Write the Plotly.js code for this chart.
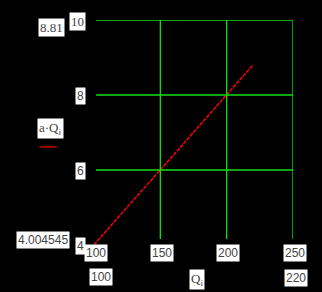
<!DOCTYPE html>
<html><head><meta charset="utf-8">
<script src="https://cdn.plot.ly/plotly-3.0.1.min.js"></script>
<style>html,body{margin:0;padding:0;background:#000;}#c{width:322px;height:292px;}</style>
</head><body><div id="c"></div>
<script>
// data
const Q = [100, 220];
const aQ = [4.004545, 8.81];
const xTicks = [100, 150, 200, 250];
const yTicks = [4, 6, 8, 10];
const xGrid = [150, 200, 250];
const yGrid = [6, 8, 10];
const yMaxLabel = "8.81";
const yMinLabel = "4.004545";
const xMinLabel = "100";
const xMaxLabel = "220";
const yName = "a·Q<sub>i</sub>";
const xName = "Q<sub>i</sub>";

const W = 322, H = 292;
const L = 94.4, R = 293.5, T = 20, B = 245;
function px(x){ return (x - L) / (R - L); }
function py(y){ return (B - y) / (B - T); }

const green = "#11e011";
const txt = {family: "Liberation Sans, Arial, sans-serif", size: 12, color: "#444"};
const serif = {family: "Liberation Serif, Times New Roman, serif", size: 13, color: "#444"};

const ann = [];
function box(text, x, y, font, xanchor){
  ann.push({text: text, xref: "paper", yref: "paper", x: px(x), y: py(y),
    xanchor: xanchor || "center", yanchor: "middle", showarrow: false,
    bgcolor: "#ffffff", borderpad: 1, font: font || txt});
}
xTicks.forEach(v => {
  ann.push({text: String(v), xref: "x", yref: "paper", x: v, y: py(253),
    xanchor: "center", yanchor: "middle", xshift: 1.5, showarrow: false,
    bgcolor: "#ffffff", borderpad: 1, font: txt});
});
yTicks.forEach(v => {
  ann.push({text: String(v), xref: "paper", yref: "y", x: px(86.5), y: v,
    xanchor: "right", yanchor: "middle", yshift: -1, showarrow: false,
    bgcolor: "#ffffff", borderpad: 1, font: v === 10 ? serif : txt});
});
box(yMaxLabel, 52, 27.5, serif);
box(yMinLabel, 43, 240, txt);
box(yName, 51, 128, serif);
box(xMinLabel, 101, 277, txt);
box(xName, 197, 279, serif);
box(xMaxLabel, 296.5, 278, txt);

const shapes = [];
xGrid.forEach(v => shapes.push({type: "line", xref: "x", yref: "paper", x0: v, x1: v,
  y0: py(239), y1: 1, line: {color: green, width: 1.3}}));
yGrid.forEach(v => shapes.push({type: "line", xref: "paper", yref: "y", x0: px(96.5), x1: 1,
  y0: v, y1: v, line: {color: green, width: 1.3}}));
shapes.push({type: "line", xref: "paper", yref: "paper", x0: px(40), x1: px(57),
  y0: py(147), y1: py(147), line: {color: "#ff0000", width: 1.2}});

const data = [{
  x: Q, y: aQ, type: "scatter", mode: "lines",
  line: {color: "#ff0000", width: 1.5, dash: "4px,1px"},
  hoverinfo: "skip", showlegend: false, cliponaxis: false
}];

const layout = {
  width: W, height: H,
  paper_bgcolor: "#000", plot_bgcolor: "#000",
  margin: {l: L, r: W - R, t: T, b: H - B, pad: 0},
  showlegend: false,
  xaxis: {range: [100, 250], showgrid: false, showticklabels: false, ticks: "",
    zeroline: false, showline: false},
  yaxis: {range: [4, 10], showgrid: false, showticklabels: false, ticks: "",
    zeroline: false, showline: false},
  annotations: ann,
  shapes: shapes
};
Plotly.newPlot("c", data, layout, {staticPlot: true, displayModeBar: false});
</script></body></html>
